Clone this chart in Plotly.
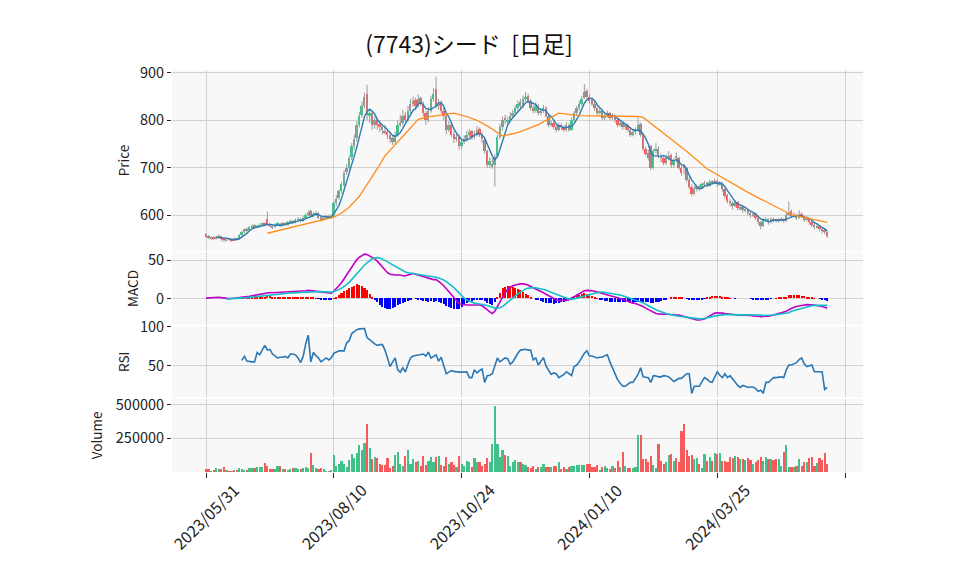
import pandas as pd
import plotly.graph_objects as go
from plotly.subplots import make_subplots

# ---------------- data ----------------
title_text = "(7743)シード \u00a0[日足]"
tick_positions = [0, 50, 100, 150, 200, 250]
tick_labels = ["2023/05/31", "2023/08/10", "2023/10/24", "2024/01/10", "2024/03/25", ""]

opens = [
    560, 556, 550, 553, 550, 553, 556, 552, 547, 550,
    549, 547, 550, 549, 558, 564, 571, 568, 574, 579,
    575, 577, 580, 583, 592, 582, 578, 575, 580, 582,
    578, 583, 580, 585, 588, 585, 590, 593, 588, 595,
    600, 608, 598, 602, 605, 596, 590, 595, 599, 596,
    600, 625, 636, 650, 664, 692, 700, 722, 745, 762,
    790, 812, 830, 855, 810, 815, 790, 800, 792, 785,
    778, 775, 770, 762, 755, 770, 790, 795, 812, 800,
    820, 835, 842, 830, 846, 835, 815, 800, 820, 845,
    865, 830, 838, 820, 810, 780, 790, 772, 760, 765,
    745, 755, 760, 770, 778, 765, 770, 782, 770, 758,
    735, 705, 702, 705, 725, 765, 785, 805, 798, 800,
    810, 815, 825, 838, 830, 845, 852, 840, 826, 820,
    830, 815, 820, 826, 810, 790, 795, 785, 780, 790,
    785, 780, 790, 780, 800, 815, 825, 835, 848, 862,
    850, 842, 835, 825, 815, 820, 805, 810, 815, 805,
    810, 800, 790, 795, 785, 790, 780, 770, 775, 780,
    792, 768, 740, 732, 745, 700, 735, 740, 725, 720,
    710, 720, 726, 705, 725, 720, 700, 705, 700, 675,
    660, 645, 655, 660, 658, 665, 668, 662, 670, 668,
    672, 665, 668, 655, 642, 630, 625, 620, 628, 615,
    618, 610, 612, 605, 600, 602, 595, 585, 578, 590,
    592, 585, 592, 590, 588, 590, 592, 588, 600, 608,
    598, 600, 595, 602, 598, 590, 592, 585, 580, 575,
    578, 572, 568, 565,
]
highs = [
    562, 558, 555, 556, 557, 560, 557, 554, 553, 552,
    551, 553, 552, 560, 567, 572, 574, 577, 581, 581,
    580, 583, 585, 585, 608, 584, 580, 583, 585, 584,
    586, 585, 588, 591, 590, 593, 596, 595, 598, 604,
    610, 612, 606, 609, 607, 598, 598, 601, 601, 602,
    630, 642, 655, 670, 695, 708, 726, 752, 770, 798,
    818, 840, 858, 875, 822, 818, 808, 805, 800, 792,
    790, 782, 775, 768, 776, 800, 812, 822, 818, 830,
    845, 850, 848, 855, 850, 840, 820, 828, 852, 868,
    892, 845, 842, 828, 815, 798, 795, 778, 772, 770,
    762, 768, 778, 782, 780, 778, 788, 785, 775, 762,
    738, 722, 720, 728, 770, 792, 808, 812, 808, 818,
    822, 832, 842, 845, 852, 860, 856, 845, 832, 838,
    834, 826, 832, 830, 815, 800, 798, 790, 795, 794,
    790, 796, 793, 806, 820, 830, 842, 852, 876, 866,
    855, 848, 840, 830, 826, 824, 815, 820, 818, 815,
    812, 805, 800, 798, 795, 793, 785, 780, 785, 806,
    795, 772, 745, 738, 748, 740, 752, 745, 730, 725,
    728, 735, 730, 720, 732, 724, 705, 708, 702, 680,
    665, 662, 665, 664, 670, 672, 671, 675, 674, 678,
    675, 672, 670, 658, 645, 634, 630, 632, 630, 622,
    620, 616, 614, 608, 606, 605, 598, 588, 594, 596,
    594, 596, 595, 593, 594, 596, 594, 605, 629, 612,
    606, 603, 610, 606, 600, 598, 595, 588, 583, 582,
    580, 575, 572, 567,
]
lows = [
    553, 550, 548, 547, 549, 551, 546, 543, 545, 546,
    544, 545, 546, 548, 556, 562, 565, 566, 572, 572,
    573, 575, 577, 577, 580, 574, 571, 573, 577, 575,
    576, 577, 578, 583, 582, 583, 587, 585, 586, 593,
    598, 595, 596, 600, 592, 586, 588, 592, 592, 594,
    598, 620, 632, 646, 660, 685, 695, 716, 738, 755,
    785, 805, 825, 800, 795, 780, 782, 780, 775, 770,
    770, 760, 752, 748, 750, 765, 786, 790, 795, 797,
    815, 828, 822, 826, 830, 808, 790, 796, 816, 840,
    825, 822, 815, 800, 770, 775, 765, 752, 755, 738,
    740, 750, 755, 765, 758, 760, 766, 765, 752, 730,
    700, 700, 698, 660, 722, 760, 778, 792, 790, 796,
    805, 810, 820, 825, 826, 840, 835, 820, 815, 816,
    810, 810, 815, 805, 785, 786, 780, 775, 777, 780,
    775, 777, 776, 778, 796, 810, 820, 830, 845, 845,
    835, 830, 820, 810, 812, 800, 800, 806, 800, 800,
    795, 785, 786, 780, 780, 775, 765, 766, 770, 776,
    765, 735, 725, 715, 695, 697, 730, 720, 712, 705,
    706, 716, 700, 700, 712, 695, 683, 686, 670, 655,
    640, 642, 650, 652, 655, 660, 658, 660, 664, 665,
    660, 662, 650, 635, 625, 618, 612, 617, 610, 610,
    605, 606, 600, 595, 596, 590, 580, 570, 575, 586,
    580, 582, 585, 584, 585, 587, 584, 586, 598, 594,
    595, 590, 592, 594, 586, 587, 580, 575, 570, 572,
    566, 562, 560, 552,
]
closes = [
    556, 552, 553, 550, 555, 556, 550, 548, 550, 549,
    547, 550, 548, 558, 565, 570, 568, 575, 578, 575,
    578, 580, 582, 580, 582, 578, 575, 580, 582, 578,
    583, 580, 585, 588, 585, 590, 592, 588, 595, 600,
    605, 598, 602, 605, 595, 590, 595, 598, 596, 598,
    625, 635, 650, 665, 690, 700, 720, 745, 760, 790,
    810, 830, 850, 812, 815, 790, 800, 790, 785, 780,
    775, 770, 760, 755, 770, 790, 795, 810, 800, 820,
    835, 840, 830, 845, 835, 815, 800, 820, 845, 855,
    830, 835, 820, 810, 780, 790, 770, 760, 765, 745,
    755, 760, 770, 775, 765, 770, 780, 770, 760, 735,
    705, 715, 708, 722, 765, 785, 800, 800, 800, 810,
    815, 825, 835, 830, 845, 850, 840, 825, 820, 830,
    815, 820, 825, 810, 790, 795, 785, 780, 790, 785,
    780, 790, 780, 800, 815, 825, 835, 845, 860, 850,
    840, 835, 825, 815, 820, 805, 810, 815, 805, 810,
    800, 790, 795, 785, 790, 780, 770, 775, 780, 790,
    770, 740, 730, 720, 700, 735, 740, 725, 720, 710,
    720, 725, 705, 715, 720, 700, 690, 700, 675, 660,
    645, 655, 660, 658, 665, 668, 662, 670, 668, 672,
    665, 668, 655, 640, 630, 625, 620, 628, 615, 618,
    610, 612, 605, 600, 602, 595, 585, 578, 590, 592,
    585, 592, 590, 588, 590, 592, 588, 600, 605, 598,
    600, 595, 600, 598, 590, 592, 585, 580, 575, 578,
    570, 568, 565, 556,
]
volumes = [
    22000, 20000, 12000, 13000, 27000, 22000, 24000, 37000, 14000, 12000,
    12000, 15000, 14000, 27000, 20000, 18000, 15000, 32000, 34000, 30000,
    36000, 38000, 40000, 66000, 45000, 25000, 22000, 20000, 44000, 49000,
    22000, 20000, 18000, 25000, 30000, 28000, 20000, 24000, 30000, 37000,
    28000, 140000, 56000, 30000, 25000, 28000, 22000, 12000, 10000, 13000,
    130000, 49000, 61000, 86000, 60000, 37000, 93000, 135000, 105000, 142000,
    203000, 167000, 216000, 355000, 176000, 98000, 110000, 103000, 61000, 56000,
    50000, 105000, 29000, 49000, 127000, 152000, 61000, 49000, 122000, 167000,
    61000, 98000, 78000, 86000, 49000, 122000, 54000, 86000, 115000, 78000,
    110000, 122000, 54000, 44000, 115000, 61000, 78000, 54000, 40000, 122000,
    61000, 44000, 86000, 78000, 40000, 103000, 73000, 73000, 44000, 60000,
    103000, 73000, 208000, 490000, 208000, 110000, 167000, 127000, 122000, 49000,
    78000, 93000, 78000, 74000, 61000, 54000, 37000, 29000, 44000, 24500,
    37000, 37000, 61000, 37000, 37000, 37000, 44000, 44000, 73000, 24500,
    37000, 20000, 37000, 49000, 49000, 54000, 54000, 54000, 56000, 61000,
    61000, 37000, 37000, 54000, 15000, 37000, 49000, 29000, 24500, 44000,
    29000, 86000, 37000, 152000, 49000, 29000, 29000, 29000, 37000, 275000,
    275000, 96000, 98000, 74000, 122000, 54000, 29000, 208000, 86000, 61000,
    74000, 127000, 135000, 86000, 103000, 78000, 306000, 355000, 167000, 118000,
    127000, 98000, 103000, 61000, 29000, 135000, 86000, 110000, 86000, 142000,
    135000, 142000, 86000, 86000, 74000, 110000, 103000, 123000, 110000, 98000,
    98000, 93000, 103000, 93000, 61000, 74000, 93000, 110000, 86000, 110000,
    98000, 98000, 93000, 98000, 96000, 44000, 152000, 203000, 37000, 37000,
    37000, 44000, 98000, 49000, 78000, 74000, 103000, 115000, 44000, 69000,
    103000, 88000, 142000, 61000,
]
# orange long moving average (vertices)
ma25_days = [24, 50, 53, 56, 60, 64, 67, 70, 74, 79, 83, 87, 97, 102, 106, 111,
             116, 122, 130, 138, 146, 169, 171, 188, 196, 212, 229, 243]
ma25_values = [562, 596, 604, 617, 640, 672, 698, 725, 748, 778, 802, 807, 815, 808, 800, 785,
               767, 774, 791, 815, 810, 808, 806, 735, 698, 648, 601, 585]
macd_values = [
    1.0, 1.2, 1.8, 2.3, 2.5, 2.2, 1.6, 1.0, 0.5, 0.3,
    0.5, 0.8, 1.0, 1.5, 2.0, 2.6, 3.0, 3.5, 4.0, 4.5,
    5.0, 5.6, 6.2, 6.8, 8.0, 8.2, 8.0, 8.2, 8.5, 8.3,
    8.5, 8.4, 8.6, 8.8, 8.8, 9.0, 9.3, 9.3, 9.8, 10.5,
    11.0, 10.5, 10.3, 10.2, 9.5, 8.7, 8.3, 8.0, 7.6, 7.5,
    10, 13, 17, 21, 26, 30, 35, 40, 45, 51,
    54, 56, 58, 57.5, 56, 54, 52, 49, 45, 41,
    37, 34, 32, 31, 31, 31, 31, 30, 30, 31,
    32, 33, 32, 31, 30, 28, 27, 26, 26, 25,
    25, 23, 20, 17, 13, 9, 5, 1, -3, -6,
    -7, -8, -8, -8, -8, -8, -8, -8, -9, -11,
    -14, -17, -19, -16, -10, -4, 3, 8, 12, 15,
    17, 18, 19, 19.5, 19.5, 19, 18, 16, 14.5, 13,
    12, 10, 8, 6, 4, 2, 0, -1, -2, -2,
    -2, -2, -1, 1, 3, 5, 7, 9, 10.5, 11,
    11, 10.5, 10, 9, 8, 7, 5.5, 4.5, 3.5, 3,
    2, 1.5, 0.5, -0.5, -2, -3, -4.5, -5.5, -6, -7,
    -8, -10, -12, -14, -16, -18, -19, -19.5, -20, -20,
    -20, -20, -20, -20.5, -21, -21, -22, -23, -24, -25,
    -26, -27, -27.5, -27.5, -27, -26, -24, -22, -20, -18.5,
    -18, -18, -18.5, -19, -19.5, -20, -20.5, -21, -21, -21,
    -21, -21, -21, -21.5, -22, -22, -22.5, -23, -23, -23,
    -22.5, -22, -21, -20, -19, -18, -17, -16, -14, -12,
    -11, -10, -9, -8.5, -8, -7.5, -7.5, -7.5, -8, -8.5,
    -9, -10, -11, -12,
]
signal_values = [None] * 8 + [
    0.0, 0.1,
    0.2, 0.4, 0.6, 0.8, 1.0, 1.3, 1.6, 2.0, 2.4, 2.8,
    3.2, 3.6, 4.0, 4.4, 5.0, 5.4, 5.8, 6.1, 6.4, 6.6,
    6.9, 7.1, 7.3, 7.6, 7.8, 8.0, 8.3, 8.5, 8.7, 9.0,
    9.3, 9.5, 9.6, 9.7, 9.6, 9.5, 9.3, 9.1, 8.9, 8.7,
    9.5, 10.5, 12, 14, 16, 18.5, 21.5, 25, 28.5, 32,
    36, 40, 44, 47, 50, 52, 53, 53.5, 53, 52,
    50, 48, 46, 44, 42, 40, 38, 36.5, 35, 34,
    33.5, 33, 32.5, 32, 31.5, 31, 30.5, 30, 29.5, 29,
    28, 27, 26, 24.5, 22.5, 20, 17.5, 14.5, 11, 7.5,
    4, 1, -1.5, -3, -4.5, -5.5, -6, -6.5, -7, -7.5,
    -8.5, -9.5, -11, -12, -12, -11.5, -10, -7, -4, -1,
    1.5, 4, 6.5, 9, 11, 13, 14, 14.5, 14.5, 14.5,
    14, 13.5, 12.5, 11.5, 10, 8.5, 7, 5.5, 4, 3,
    2, 1, 0, -0.5, 0, 1, 2, 3, 4, 5,
    6, 7, 8, 8.5, 9, 9, 8.5, 8, 7.5, 7,
    6.5, 6, 5, 4, 3, 2, 1, 0, -1, -2,
    -3.5, -5, -7, -9, -10.5, -12, -14, -15.5, -17, -18,
    -19, -20, -21, -21.5, -22, -22.5, -23, -23, -23.5, -24,
    -24.5, -25, -25.5, -26, -26, -25.5, -25, -24, -23, -22,
    -21.5, -21, -20.5, -20.5, -20.5, -20.5, -20.5, -20.5, -21, -21,
    -21, -21, -21, -21, -21, -21, -21, -21, -21.5, -21.5,
    -21.5, -21.5, -21, -20.5, -20, -19.5, -19, -18.5, -18, -16,
    -15, -14, -13, -12, -11, -10, -9.5, -9, -8.5, -8.5,
    -8.5, -8.5, -8.5, -8.5,
]
rsi_values = [None] * 14 + [
    57, 62, 56, 55, 55, 55,
    67, 64, 70, 76, 70, 71, 65, 62, 60, 61,
    61, 62, 60, 65, 65, 64, 60, 54, 62, 78,
    89, 55, 67, 63, 60, 55, 57, 60, 57.5, 60,
    66, 67, 69, 69, 69, 79, 82, 91, 94, 96,
    97, 97.5, 97.5, 86, 83, 80, 78, 76, 77, 77,
    70, 60, 49, 55, 60, 45, 42, 47.5, 42, 52,
    60, 62.5, 63, 64, 64, 65, 62.5, 67.5, 60, 62,
    64, 56, 61, 50, 40, 42, 44, 43, 42, 42,
    42, 42, 42.5, 35, 35, 45, 41, 44, 46, 29,
    37.5, 38, 40, 50, 60, 55, 57.5, 60, 59, 52,
    55, 61, 66, 70, 71, 71, 70, 70, 57.5, 60,
    51, 55, 60.5, 50, 45, 39, 41, 40, 35, 37,
    39, 42.5, 40, 37.5, 49, 51, 55, 60, 66, 69,
    62.5, 62.5, 61, 60, 61, 61, 63, 64, 55, 47.5,
    40, 32.5, 28, 24, 24, 27, 29, 29, 34, 39,
    47.5, 36, 35.5, 35, 29, 37.5, 37, 36, 36, 37.5,
    37, 36, 33, 30, 32, 34, 34, 37, 40, 40,
    15, 24, 24, 24, 30, 35, 33, 30, 29, 36,
    42.5, 38, 35, 40, 35, 37.5, 33, 30, 25, 22.5,
    25, 24, 22.5, 23, 23, 21, 17.5, 19, 15, 29,
    29, 32, 35, 35, 35.5, 36, 35, 45, 51, 51,
    52.5, 54, 58, 60, 52.5, 49, 50, 51, 42.5, 42.5,
    42.5, 42.5, 20, 22.5,
]

n = len(closes)
for name, arr in [("opens", opens), ("highs", highs), ("lows", lows), ("volumes", volumes),
                  ("macd", macd_values), ("signal", signal_values), ("rsi", rsi_values)]:
    assert len(arr) == n, (name, len(arr), n)

# ---------------- derived ----------------
days = list(range(n))
ma5 = pd.Series(closes).rolling(5).mean().tolist()
hist = [None if s is None else m - s for m, s in zip(macd_values, signal_values)]

GREEN = "#41c18a"
RED = "#f65a5a"
WICK = "#9a9a9a"
candle_colors = [GREEN if c >= o else RED for o, c in zip(opens, closes)]
hist_colors = ["#ff0000" if (h is not None and h >= 0) else "#0000ff" for h in hist]

wick_x, wick_y = [], []
for d, h, l in zip(days, highs, lows):
    wick_x += [d, d, None]
    wick_y += [l, h, None]

fig = make_subplots(rows=4, cols=1, shared_xaxes=True, vertical_spacing=0.004,
                    row_heights=[183, 73, 72, 74])

# price panel
fig.add_trace(go.Scatter(x=wick_x, y=wick_y, mode="lines",
                         line=dict(color=WICK, width=1), hoverinfo="skip"), row=1, col=1)
fig.add_trace(go.Bar(x=days, y=[abs(c - o) for o, c in zip(opens, closes)],
                     base=[min(o, c) for o, c in zip(opens, closes)],
                     width=0.75, marker=dict(color=candle_colors, line=dict(width=0))), row=1, col=1)
fig.add_trace(go.Scatter(x=days, y=ma5, mode="lines",
                         line=dict(color="#2c7bb6", width=1.4)), row=1, col=1)
fig.add_trace(go.Scatter(x=ma25_days, y=ma25_values, mode="lines",
                         line=dict(color="#ff8c1a", width=1.3)), row=1, col=1)

# MACD panel
fig.add_trace(go.Bar(x=days, y=hist, width=0.8,
                     marker=dict(color=hist_colors, line=dict(width=0))), row=2, col=1)
fig.add_trace(go.Scatter(x=days, y=macd_values, mode="lines",
                         line=dict(color="#c000c8", width=1.6)), row=2, col=1)
fig.add_trace(go.Scatter(x=days, y=signal_values, mode="lines",
                         line=dict(color="#10c0c8", width=1.6)), row=2, col=1)

# RSI panel
fig.add_trace(go.Scatter(x=days, y=rsi_values, mode="lines",
                         line=dict(color="#2a77b4", width=1.6)), row=3, col=1)

# Volume panel
fig.add_trace(go.Bar(x=days, y=volumes, width=0.85,
                     marker=dict(color=candle_colors, line=dict(width=0))), row=4, col=1)

GRID = "#d2d2d2"
FONT = "Noto Sans CJK JP, Noto Sans, sans-serif"
for r in range(1, 5):
    fig.update_xaxes(row=r, col=1, range=[-13.3, 257], tickvals=tick_positions,
                     showgrid=True, gridcolor=GRID, gridwidth=1,
                     zeroline=False, showline=False, automargin=False,
                     showticklabels=False, ticks=("outside" if r == 4 else ""),
                     ticklen=5, tickcolor="#222")

# date labels centred on their ticks, rotated 45 degrees
for pos, lab in zip(tick_positions, tick_labels):
    if lab:
        fig.add_annotation(x=pos, xref="x4", y=-0.110, yref="paper", text=lab,
                           textangle=-45, showarrow=False, xanchor="center", yanchor="middle",
                           font=dict(size=16, color="#222", family=FONT))

yaxis_common = dict(showgrid=True, gridcolor=GRID, gridwidth=1, zeroline=False, showline=False,
                    ticks="outside", ticklen=4, tickcolor="#222", automargin=False,
                    tickfont=dict(size=14.5, color="#222"), title_font=dict(size=13.5, color="#222"))
fig.update_yaxes(row=1, col=1, range=[525, 906], tickvals=[600, 700, 800, 900],
                 title_text="Price", title_standoff=7, **yaxis_common)
fig.update_yaxes(row=2, col=1, range=[-33.3, 60.3], tickvals=[0, 50],
                 title_text="MACD", title_standoff=6, **yaxis_common)
fig.update_yaxes(row=3, col=1, range=[10, 100.5], tickvals=[50, 100],
                 title_text="RSI", title_standoff=7, **yaxis_common)
fig.update_yaxes(row=4, col=1, range=[0, 544000], tickvals=[250000, 500000],
                 tickformat="d", title_text="Volume", title_standoff=10, **yaxis_common)

# the page body adds an 8px offset, so margins are shifted by 8px
fig.update_layout(
    width=958, height=575,
    margin=dict(l=164, r=103, t=62, b=111),
    paper_bgcolor="white", plot_bgcolor="#f8f8f8",
    barmode="overlay", bargap=0, showlegend=False,
    font=dict(family=FONT, size=13, color="#222"),
    title=dict(text=title_text, x=461 / 958, xanchor="center", y=1 - 37 / 575,
               yanchor="middle", font=dict(size=23, color="#111", family=FONT)),
)

fig.write_html("out.html")
